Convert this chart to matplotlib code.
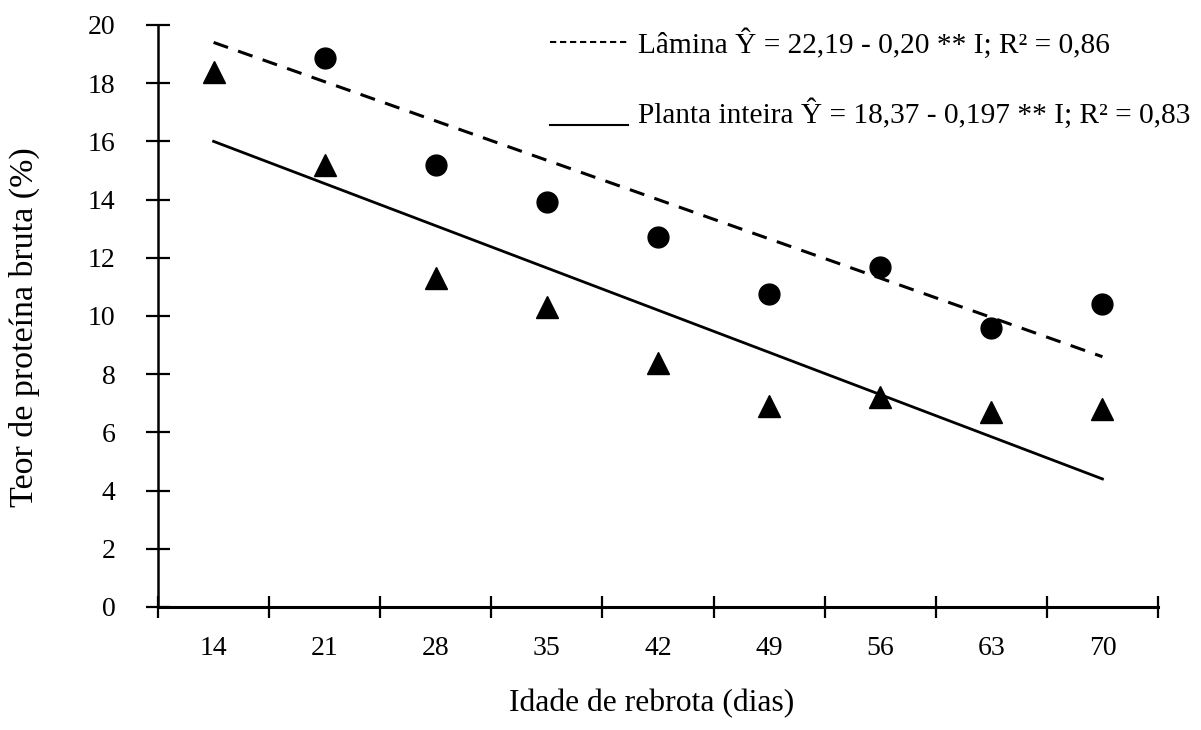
import numpy as np
import matplotlib
matplotlib.use('Agg')
import matplotlib.pyplot as plt
from matplotlib.lines import Line2D
from matplotlib.legend_handler import HandlerLine2D

plt.rcParams['font.family'] = ['Liberation Serif', 'DejaVu Serif']

# Data
days = [14, 21, 28, 35, 42, 49, 56, 63, 70]
lamina_days = [21, 28, 35, 42, 49, 56, 63, 70]
lamina = [18.85, 15.2, 13.9, 12.7, 10.75, 11.7, 9.6, 10.4]
planta = [18.4, 15.2, 11.3, 10.3, 8.4, 6.9, 7.2, 6.7, 6.8]

# regression lines (endpoints)
fit_days = [14, 70]
lamina_fit = [19.4, 8.6]
planta_fit = [16.0, 4.4]

lamina_label = 'Lâmina Ŷ = 22,19 - 0,20 ** I; R² = 0,86'
planta_label = 'Planta inteira Ŷ = 18,37 - 0,197 ** I; R² = 0,83'


class UnderlineHandler(HandlerLine2D):
    """Legend key drawn at the text baseline, like an underscore."""
    def create_artists(self, legend, orig_handle, xdescent, ydescent,
                       width, height, fontsize, trans):
        artists = super().create_artists(legend, orig_handle, xdescent, ydescent,
                                         width, height, fontsize, trans)
        for a in artists:
            a.set_ydata(np.full(len(a.get_ydata()), -0.12 * height))
        return artists


fig = plt.figure(figsize=(12.01, 7.30), dpi=100)
ax = fig.add_axes([0.1316, 0.1685, 0.8326, 0.7973])

ax.plot(fit_days, lamina_fit, color='black', lw=2.2, linestyle=(0, (5, 3.5)))
ax.plot(fit_days, planta_fit, color='black', lw=2.0)
ax.plot(lamina_days, lamina, 'o', color='black', markersize=15)
ax.plot(days, planta, '^', color='black', markersize=16)

ax.set_xlim(10.5, 73.5)
ax.set_ylim(0, 20)
ax.set_yticks(np.arange(0, 21, 2))
ax.set_xticks(np.arange(10.5, 74, 7))
ax.set_xticklabels([])
ax.set_xticks(days, minor=True)
ax.set_xticklabels([str(d) for d in days], minor=True)

for side in ['top', 'right']:
    ax.spines[side].set_visible(False)
ax.spines['left'].set_linewidth(1.8)
ax.spines['bottom'].set_linewidth(2.2)

ax.tick_params(axis='y', direction='inout', length=17, width=1.6, labelsize=20, pad=22)
ax.tick_params(axis='x', which='major', direction='inout', length=16, width=1.6)
ax.tick_params(axis='x', which='minor', length=0, labelsize=20, pad=21)

ax.set_xlabel('Idade de rebrota (dias)', fontsize=22.8)
ax.xaxis.set_label_coords(0.494, -0.14)
ax.set_ylabel('Teor de proteína bruta (%)', fontsize=24.5)
ax.yaxis.set_label_coords(-0.118, 0.48)

# legend handles styled like the original key
h1 = Line2D([], [], color='black', lw=1.5, linestyle=(0, (3, 1.8)))
h2 = Line2D([], [], color='black', lw=1.5)
ax.legend([h1, h2], [lamina_label, planta_label], loc='upper left',
          bbox_to_anchor=(0.392, 0.995), frameon=False, fontsize=21.2,
          borderpad=0, borderaxespad=0,
          handlelength=2.64, handletextpad=0.34, labelspacing=1.35,
          handler_map={h2: UnderlineHandler()})

fig.savefig('out.png', dpi=100)
